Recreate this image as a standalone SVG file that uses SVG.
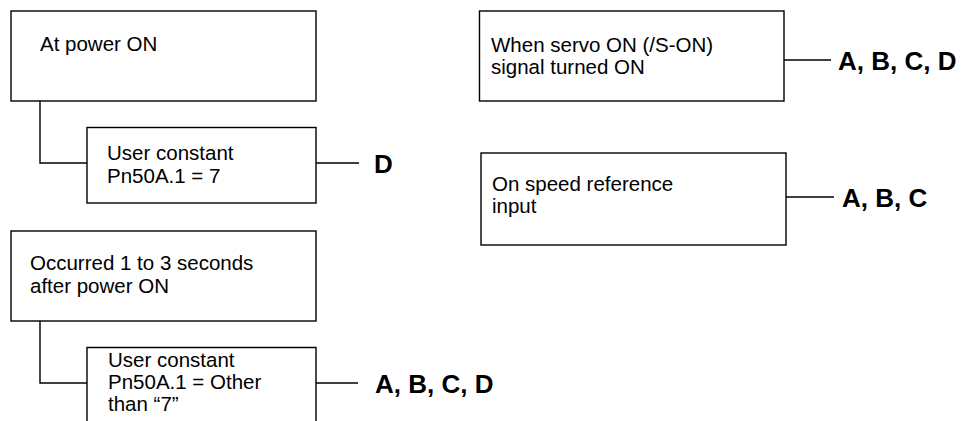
<svg xmlns="http://www.w3.org/2000/svg" width="976" height="421" viewBox="0 0 976 421">
<style>
.box{fill:#fff;stroke:#000;stroke-width:1.4}
.ln{fill:none;stroke:#000;stroke-width:1.4}
.t{font-family:"Liberation Sans",Arial,sans-serif;font-size:20.5px;fill:#000}
.b{font-family:"Liberation Sans",Arial,sans-serif;font-size:26px;font-weight:bold;fill:#000}
</style>
<rect width="976" height="421" fill="#fff"/>
<g id="connectors">
<path class="ln" d="M40,101 V163 H87"/>
<path class="ln" d="M316,163 H359"/>
<path class="ln" d="M40,321 V383 H87"/>
<path class="ln" d="M316,383 H358"/>
<path class="ln" d="M784,60 H831"/>
<path class="ln" d="M786,197 H834"/>
</g>
<g id="n1">
<rect class="box" x="11" y="11" width="305" height="90"/>
<text class="t" x="40" y="50.5">At power ON</text>
</g>
<g id="n2">
<rect class="box" x="87" y="127.5" width="229" height="75.5"/>
<text class="t" x="107" y="159.5">User constant</text>
<text class="t" x="107" y="182.5">Pn50A.1 = 7</text>
</g>
<g id="r1"><text class="b" x="374" y="173">D</text></g>
<g id="n3">
<rect class="box" x="11" y="231" width="305" height="90"/>
<text class="t" x="30" y="270">Occurred 1 to 3 seconds</text>
<text class="t" x="30" y="293">after power ON</text>
</g>
<g id="n4">
<path class="box" d="M87,425 V347.5 H316 V425"/>
<text class="t" x="108" y="366.5">User constant</text>
<text class="t" x="108" y="388.5">Pn50A.1 = Other</text>
<text class="t" x="108" y="410.5">than “7”</text>
</g>
<g id="r2"><text class="b" x="375" y="393">A, B, C, D</text></g>
<g id="n5">
<rect class="box" x="479.5" y="11" width="304.5" height="90"/>
<text class="t" x="491" y="52">When servo ON (/S-ON)</text>
<text class="t" x="491" y="74">signal turned ON</text>
</g>
<g id="r3"><text class="b" x="838" y="70">A, B, C, D</text></g>
<g id="n6">
<rect class="box" x="481" y="153" width="305" height="92"/>
<text class="t" x="492" y="190.5">On speed reference</text>
<text class="t" x="492" y="213">input</text>
</g>
<g id="r4"><text class="b" x="842" y="207">A, B, C</text></g>
</svg>
